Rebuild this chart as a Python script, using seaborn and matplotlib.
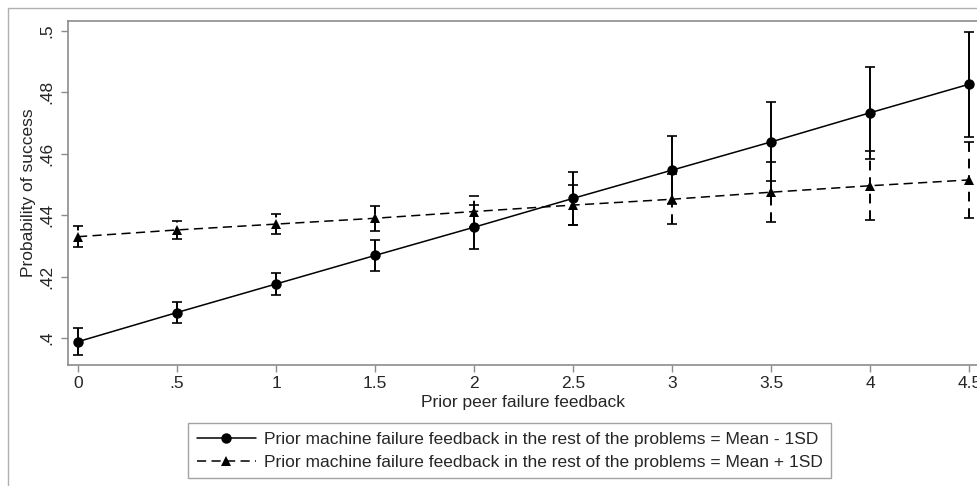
import numpy as np
import pandas as pd
import matplotlib
matplotlib.use('Agg')
import matplotlib.pyplot as plt
import seaborn as sns
from matplotlib.patches import Rectangle

# values
peer_feedback = [0, 0.5, 1, 1.5, 2, 2.5, 3, 3.5, 4, 4.5]
low_mean = [0.3988, 0.4083, 0.4176, 0.4269, 0.4361, 0.4455, 0.4547, 0.4639, 0.4734, 0.4827]
low_ci = [0.0043, 0.0034, 0.0037, 0.0050, 0.0072, 0.0086, 0.0111, 0.0129, 0.0150, 0.0171]
high_mean = [0.4330, 0.4352, 0.4371, 0.4390, 0.4412, 0.4433, 0.4452, 0.4475, 0.4496, 0.4515]
high_ci = [0.0035, 0.0028, 0.0032, 0.0041, 0.0052, 0.0066, 0.0081, 0.0098, 0.0112, 0.0125]

lab_low = "Prior machine failure feedback in the rest of the problems = Mean - 1SD"
lab_high = "Prior machine failure feedback in the rest of the problems = Mean + 1SD"

x_ticks = [0, 0.5, 1, 1.5, 2, 2.5, 3, 3.5, 4, 4.5]
x_ticklabels = ["0", ".5", "1", "1.5", "2", "2.5", "3", "3.5", "4", "4.5"]
y_ticks = [0.40, 0.42, 0.44, 0.46, 0.48, 0.50]
y_ticklabels = [".4", ".42", ".44", ".46", ".48", ".5"]

df = pd.DataFrame({
    "x": peer_feedback * 2,
    "y": low_mean + high_mean,
    "group": [lab_low] * len(peer_feedback) + [lab_high] * len(peer_feedback),
})

sns.set_style("white")
plt.rcParams['font.family'] = ['Liberation Sans', 'DejaVu Sans']
fs = 12.5

fig = plt.figure(figsize=(9.78, 4.86), dpi=100)
ax = fig.add_axes([68 / 978, 1 - 365 / 486, 1 - 68 / 978, (365 - 21) / 486])

frame_col = '#8c8c8c'

# error bars (drawn first so markers sit on top)
eb1 = ax.errorbar(peer_feedback, low_mean, yerr=low_ci, fmt='none', ecolor='black',
                  elinewidth=1.4, capsize=3.5, capthick=1.2, zorder=2)
eb2 = ax.errorbar(peer_feedback, high_mean, yerr=high_ci, fmt='none', ecolor='black',
                  elinewidth=1.4, capsize=3.5, capthick=1.2, zorder=2)
for lc in eb2[2]:
    lc.set_linestyle((0, (5, 3.5)))

sns.lineplot(data=df, x="x", y="y", style="group", hue="group",
             palette={lab_low: 'black', lab_high: 'black'},
             markers={lab_low: 'o', lab_high: '^'},
             dashes={lab_low: '', lab_high: (6, 3.5)},
             markersize=7.5, markeredgewidth=0, linewidth=1.1, ax=ax, zorder=3)

ax.set_xlim(-0.0505, 4.543)
ax.set_ylim(0.3912, 0.50326)
ax.set_xticks(x_ticks)
ax.set_xticklabels(x_ticklabels)
ax.set_yticks(y_ticks)
ax.set_yticklabels(y_ticklabels, rotation=90, va='center')
ax.tick_params(axis='both', direction='out', length=5, width=1, color=frame_col,
               labelsize=fs, left=True, bottom=True)
ax.tick_params(axis='x', pad=3)
ax.tick_params(axis='y', pad=5)

for side in ['left', 'bottom', 'top']:
    ax.spines[side].set_color(frame_col)
    ax.spines[side].set_linewidth(1.2)
ax.spines['right'].set_visible(False)

ax.set_xlabel("Prior peer failure feedback", fontsize=fs, labelpad=3)
ax.set_ylabel("Probability of success", fontsize=fs, labelpad=2)

handles, labels = ax.get_legend_handles_labels()
leg = fig.legend(handles, labels, loc='upper left',
                 bbox_to_anchor=(188 / 978, 1 - 423 / 486), ncol=1,
                 fontsize=fs, frameon=True, fancybox=False, handlelength=3.4,
                 borderpad=0.5, labelspacing=0.45, handletextpad=0.45, borderaxespad=0)
leg.get_frame().set_edgecolor(frame_col)
leg.get_frame().set_linewidth(1)
if ax.get_legend():
    ax.get_legend().remove()

# outer graph region border (cropped at right and bottom)
fig.patches.append(Rectangle((8 / 978, -0.1), 1.2, 1 - 8 / 486 + 0.1,
                             transform=fig.transFigure, fill=False,
                             edgecolor='#b0b0b0', linewidth=1))

fig.savefig("out.png", dpi=100)
